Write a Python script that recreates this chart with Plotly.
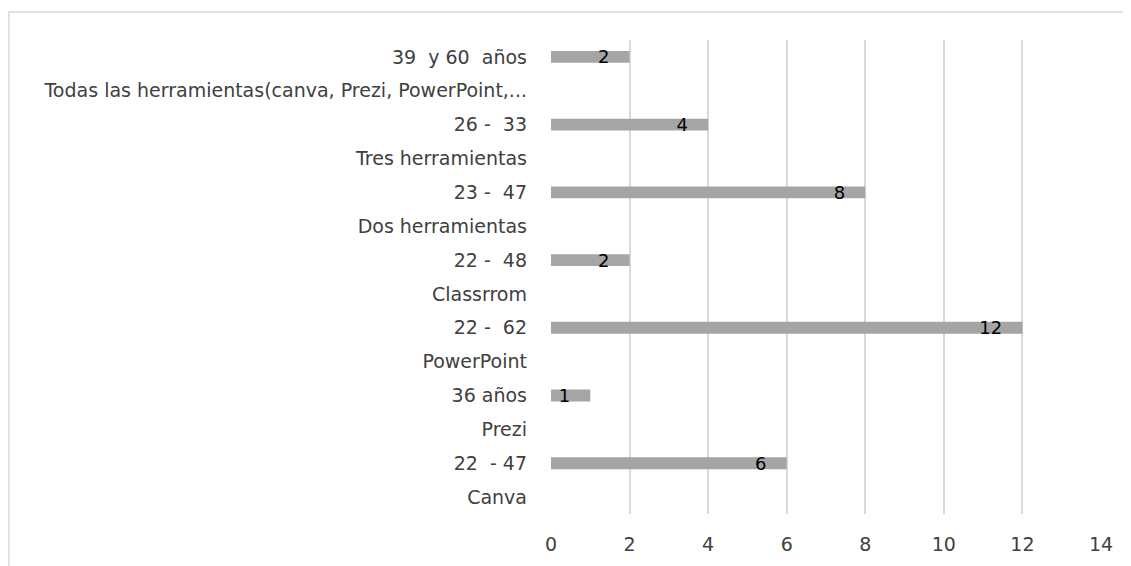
import plotly.graph_objects as go

categories = [
    "Canva", "22  - 47", "Prezi", "36 años", "PowerPoint", "22 -  62",
    "Classrrom", "22 -  48", "Dos herramientas", "23 -  47",
    "Tres herramientas", "26 -  33",
    "Todas las herramientas(canva, Prezi, PowerPoint,...", "39  y 60  años",
]
values = [None, 6, None, 1, None, 12, None, 2, None, 8, None, 4, None, 2]
labels = ["" if v is None else str(v) + "\u00a0\u00a0\u00a0" for v in values]

FONT = "DejaVu Sans"
TICK_COLOR = "#404040"

# page body has an 8px margin, so the figure is sized to end at the window edge
W, H = 1123, 558
L, R, T, B = 543, 30, 32, 52

fig = go.Figure(go.Bar(
    y=categories, x=values, orientation="h",
    marker=dict(color="#A5A5A5", line=dict(width=0)),
    width=0.35,
    text=labels, textposition="inside", insidetextanchor="end", textangle=0,
    textfont=dict(family=FONT, size=18, color="#000000"),
    hoverinfo="skip",
))

fig.update_layout(
    width=W, height=H,
    margin=dict(l=L, r=R, t=T, b=B, autoexpand=False),
    paper_bgcolor="white", plot_bgcolor="white",
    showlegend=False,
    font=dict(family=FONT, size=18, color=TICK_COLOR),
    uniformtext=dict(mode="show", minsize=18),
    xaxis=dict(range=[0, 14], dtick=2, tick0=0, showgrid=True,
               gridcolor="#D9D9D9", gridwidth=1.5, zeroline=False,
               showline=False, ticks="", automargin=False,
               ticklabelstandoff=17,
               tickfont=dict(family=FONT, size=19, color=TICK_COLOR)),
    yaxis=dict(type="category", categoryorder="array", categoryarray=categories,
               showgrid=False, zeroline=False, showline=False, ticks="",
               automargin=False, ticklabelstandoff=23,
               tickfont=dict(family=FONT, size=19, color=TICK_COLOR)),
)

plot_w = W - L - R
plot_h = H - T - B
fig.add_shape(type="rect", xref="paper", yref="paper",
              x0=(1 - L) / plot_w, x1=1.2, y0=-0.3, y1=(H - B - 4) / plot_h,
              line=dict(color="#D9D9D9", width=1.5), fillcolor="rgba(0,0,0,0)",
              layer="below")

fig.write_html("out.html")
